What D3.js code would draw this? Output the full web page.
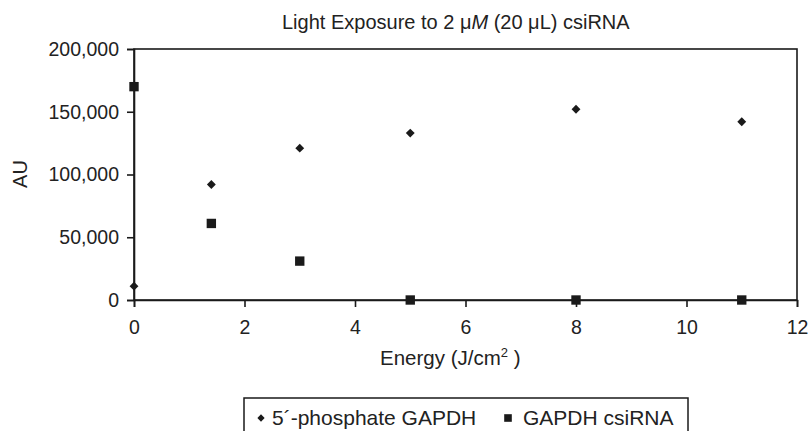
<!DOCTYPE html>
<html><head><meta charset="utf-8">
<script src="https://cdn.jsdelivr.net/npm/d3@7"></script>
<style>body{margin:0;background:#fff}svg{font-family:"Liberation Sans",Arial,sans-serif}</style>
</head><body>
<svg id="c" width="810" height="431"></svg>
<script>
const energy = [0, 1.4, 3, 5, 8, 11];
const phosphateGAPDH = [11000, 92000, 121000, 133000, 152000, 142000];
const gapdhCsiRNA = [170000, 61000, 31000, 0, 0, 0];
const xTicks = [0, 2, 4, 6, 8, 10, 12];
const yTicks = [0, 50000, 100000, 150000, 200000];
const seriesNames = ["5´-phosphate GAPDH", "GAPDH csiRNA"];

const svg = d3.select("#c");
const m = {l:134, r:797, t:49, b:300};
const x = d3.scaleLinear().domain([0,12]).range([m.l, m.r]);
const y = d3.scaleLinear().domain([0,200000]).range([m.b, m.t]);
const col = "#1a1a1a";
const tcol = "#222";

// frame
svg.append("rect").attr("x", m.l).attr("y", m.t).attr("width", m.r-m.l).attr("height", m.b-m.t)
  .attr("fill","none").attr("stroke",col).attr("stroke-width",1.6);

const fmt = d3.format(",");
const ya = svg.append("g").attr("transform",`translate(${m.l},0)`)
  .call(d3.axisLeft(y).tickValues(yTicks).tickFormat(fmt).tickSize(7).tickPadding(8));
const xa = svg.append("g").attr("transform",`translate(0,${m.b})`)
  .call(d3.axisBottom(x).tickValues(xTicks).tickSize(7).tickPadding(13));
[ya, xa].forEach(a => {
  a.select(".domain").attr("stroke", col).attr("stroke-width",1.6);
  a.selectAll(".tick line").attr("stroke", col).attr("stroke-width",1.6);
  a.selectAll("text").attr("font-size",19.5).attr("fill",tcol).attr("font-family","Liberation Sans, Arial, sans-serif");
});

// title
const t = svg.append("text").attr("x",282).attr("y",29).attr("text-anchor","start")
  .attr("font-size",20).attr("fill",tcol);
t.append("tspan").text("Light Exposure to 2 μ");
t.append("tspan").attr("font-style","italic").text("M");
t.append("tspan").text(" (20 μL) csiRNA");

// axis labels
svg.append("text").attr("transform","translate(27,174) rotate(-90)").attr("text-anchor","middle")
  .attr("font-size",20).attr("fill",tcol).text("AU");
const xl = svg.append("text").attr("x",380).attr("y",365).attr("text-anchor","start")
  .attr("font-size",20.5).attr("fill",tcol);
xl.append("tspan").text("Energy (J/cm");
xl.append("tspan").attr("font-size",13).attr("dy",-8).text("2");
xl.append("tspan").attr("dy",8).text(" )");

// markers
const diamond = d3.symbol().type(d3.symbolDiamond2).size(50);
const square = d3.symbol().type(d3.symbolSquare).size(88);
svg.append("g").selectAll("path").data(energy.map((e,i)=>[e, phosphateGAPDH[i]])).join("path")
  .attr("d", diamond).attr("fill", col)
  .attr("transform", d=>`translate(${x(d[0])},${y(d[1])})`);
svg.append("g").selectAll("path").data(energy.map((e,i)=>[e, gapdhCsiRNA[i]])).join("path")
  .attr("d", square).attr("fill", col)
  .attr("transform", d=>`translate(${x(d[0])},${y(d[1])})`);

// legend
const lg = svg.append("g");
lg.append("rect").attr("x",244).attr("y",398).attr("width",444).attr("height",45)
  .attr("fill","none").attr("stroke",col).attr("stroke-width",1.5);
lg.append("path").attr("d", d3.symbol().type(d3.symbolDiamond2).size(34)).attr("fill",col)
  .attr("transform","translate(261,418)");
lg.append("text").attr("x",272).attr("y",425).attr("font-size",21).attr("fill",tcol).text(seriesNames[0]);
lg.append("path").attr("d", d3.symbol().type(d3.symbolSquare).size(58)).attr("fill",col)
  .attr("transform","translate(508,418)");
lg.append("text").attr("x",523).attr("y",425).attr("font-size",21).attr("fill",tcol).text(seriesNames[1]);
</script>
</body></html>
